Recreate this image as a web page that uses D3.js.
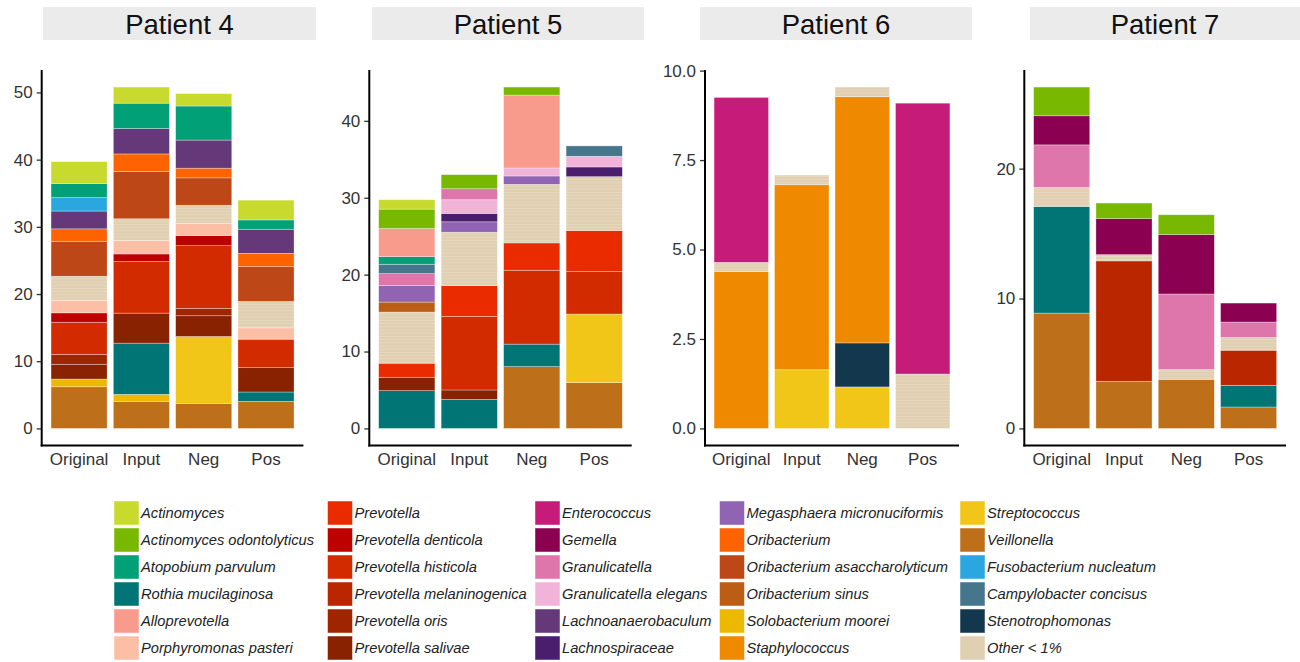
<!DOCTYPE html>
<html>
<head>
<meta charset="utf-8">
<script src="https://cdn.jsdelivr.net/npm/d3@7"></script>
<style>
  body { margin: 0; background: #fff; }
  svg { display: block; font-family: "Liberation Sans", Arial, Helvetica, sans-serif; }
</style>
</head>
<body>
<svg id="chart" width="1300" height="662"></svg>
<script>
// ---- data: relative abundance (%) per taxon, columns follow `samples` ----
const samples = ["Original", "Input", "Neg", "Pos"];
const patientNames = ["Patient 4", "Patient 5", "Patient 6", "Patient 7"];

const patient4Rows = [
  ["Actinomyces",                    3.25, 2.40, 1.84, 2.94],
  ["Atopobium parvulum",             2.10, 3.77, 5.07, 1.39],
  ["Fusobacterium nucleatum",        2.00, 0,    0,    0   ],
  ["Lachnoanaerobaculum",            2.65, 3.78, 4.18, 3.58],
  ["Oribacterium",                   1.85, 2.59, 1.44, 1.99],
  ["Oribacterium asaccharolyticum",  5.20, 7.06, 4.08, 5.17],
  ["Other < 1%",                     3.60, 3.20, 2.73, 3.93],
  ["Porphyromonas pasteri",          1.85, 2.03, 1.79, 1.69],
  ["Prevotella denticola",           1.40, 1.14, 1.49, 0   ],
  ["Prevotella histicola",           4.80, 7.67, 9.34, 4.23],
  ["Prevotella oris",                1.45, 0,    1.09, 0   ],
  ["Prevotella salivae",             2.20, 4.47, 3.09, 3.63],
  ["Rothia mucilaginosa",            0,    7.62, 0,    1.39],
  ["Solobacterium moorei",           1.15, 1.04, 0,    0   ],
  ["Streptococcus",                  0,    0,    9.95, 0   ],
  ["Veillonella",                    6.20, 4.03, 3.73, 4.03]
];

const patient5Rows = [
  ["Actinomyces",                    1.22, 0,    0,    0   ],
  ["Actinomyces odontolyticus",      2.52, 1.83, 1.04, 0   ],
  ["Alloprevotella",                 3.65, 0,    9.48, 0   ],
  ["Atopobium parvulum",             1.00, 0,    0,    0   ],
  ["Campylobacter concisus",         1.22, 0,    0,    1.35],
  ["Granulicatella",                 1.56, 1.43, 0,    0   ],
  ["Granulicatella elegans",         0,    1.78, 1.04, 1.39],
  ["Lachnospiraceae",                0,    1.09, 0,    1.26],
  ["Megasphaera micronuciformis",    2.14, 1.35, 1.09, 0   ],
  ["Oribacterium sinus",             1.30, 0,    0,    0   ],
  ["Other < 1%",                     6.65, 6.95, 7.61, 7.00],
  ["Prevotella",                     1.83, 4.00, 3.56, 5.35],
  ["Prevotella histicola",           0,    9.57, 9.61, 5.52],
  ["Prevotella salivae",             1.74, 1.22, 0,    0   ],
  ["Rothia mucilaginosa",            4.91, 3.78, 2.92, 0   ],
  ["Streptococcus",                  0,    0,    0,    8.91],
  ["Veillonella",                    0,    0,    8.04, 5.96]
];

const patient6Rows = [
  ["Enterococcus",                   4.61, 0,    0,    7.57],
  ["Other < 1%",                     0.25, 0.27, 0.27, 1.52],
  ["Staphylococcus",                 4.39, 5.17, 6.88, 0   ],
  ["Stenotrophomonas",               0,    0,    1.23, 0   ],
  ["Streptococcus",                  0,    1.64, 1.16, 0   ]
];

const patient7Rows = [
  ["Actinomyces odontolyticus",      2.21, 1.19, 1.52, 0   ],
  ["Gemella",                        2.24, 2.78, 4.58, 1.46],
  ["Granulicatella",                 3.27, 0,    5.82, 1.19],
  ["Other < 1%",                     1.47, 0.48, 0.75, 0.98],
  ["Prevotella melaninogenica",      0,    9.27, 0,    2.70],
  ["Rothia mucilaginosa",            8.21, 0,    0,    1.67],
  ["Veillonella",                    8.88, 3.63, 3.78, 1.65]
];

// y-axis tick labels per panel
const yTicks4 = [0, 10, 20, 30, 40, 50];
const yTicks5 = [0, 10, 20, 30, 40];
const yTicks6 = [0, 2.5, 5, 7.5, 10];
const yTicks7 = [0, 10, 20];

// legend entries (column-major, six per column) and their fills
const legendTaxa = [
  "Actinomyces", "Actinomyces odontolyticus", "Atopobium parvulum", "Rothia mucilaginosa", "Alloprevotella", "Porphyromonas pasteri",
  "Prevotella", "Prevotella denticola", "Prevotella histicola", "Prevotella melaninogenica", "Prevotella oris", "Prevotella salivae",
  "Enterococcus", "Gemella", "Granulicatella", "Granulicatella elegans", "Lachnoanaerobaculum", "Lachnospiraceae",
  "Megasphaera micronuciformis", "Oribacterium", "Oribacterium asaccharolyticum", "Oribacterium sinus", "Solobacterium moorei", "Staphylococcus",
  "Streptococcus", "Veillonella", "Fusobacterium nucleatum", "Campylobacter concisus", "Stenotrophomonas", "Other < 1%"
];
const legendColors = [
  "#C8DA2E", "#78B800", "#01A077", "#017575", "#F89B8D", "#FDBEA6",
  "#EA2B00", "#BD0000", "#D32B00", "#B92600", "#9E2500", "#892200",
  "#C71B7A", "#8B0050", "#DE76AC", "#F1B4D8", "#643879", "#4A1D6D",
  "#9063B3", "#FE6300", "#BE4718", "#BC5D16", "#EDB900", "#EE8900",
  "#F2C619", "#BE6F19", "#2BA7E0", "#45768B", "#13384E", "#E0CFB1"
];

// ---- drawing ----
const svg = d3.select("#chart");
const color = d3.scaleOrdinal(legendTaxa, legendColors);
const OTHER = "Other < 1%";

// faint striping inside the "Other" blocks (many small taxa stacked together)
const defs = svg.append("defs");
const pat = defs.append("pattern")
  .attr("id", "otherTexture").attr("patternUnits", "userSpaceOnUse")
  .attr("width", 6).attr("height", 3.2);
pat.append("rect").attr("width", 6).attr("height", 3.2).attr("fill", color(OTHER));
pat.append("rect").attr("y", 0).attr("width", 6).attr("height", 0.6)
  .attr("fill", "#fff").attr("opacity", 0.28);

const panels = [
  { name: patientNames[0], rows: patient4Rows, ticks: yTicks4, fmt: d3.format("d"),   x0: 41.7,  x1: 303.4, sx0: 43,   sx1: 316 },
  { name: patientNames[1], rows: patient5Rows, ticks: yTicks5, fmt: d3.format("d"),   x0: 369.3, x1: 631.7, sx0: 372,  sx1: 644 },
  { name: patientNames[2], rows: patient6Rows, ticks: yTicks6, fmt: d3.format(".1f"), x0: 705,   x1: 959,   sx0: 700,  sx1: 972 },
  { name: patientNames[3], rows: patient7Rows, ticks: yTicks7, fmt: d3.format("d"),   x0: 1024.3,x1: 1286,  sx0: 1030, sx1: 1300 }
];

const axisTop = 70, axisBottom = 445.5;

panels.forEach(p => {
  const g = svg.append("g");

  // strip with panel title
  g.append("rect")
    .attr("x", p.sx0).attr("y", 7).attr("width", p.sx1 - p.sx0).attr("height", 33)
    .attr("fill", "#EBEBEB");
  g.append("text")
    .attr("x", (p.sx0 + p.sx1) / 2).attr("y", 33.5)
    .attr("text-anchor", "middle").attr("font-size", 27.5).attr("fill", "#111")
    .text(p.name);

  // stacked layout: alphabetical order reads top to bottom
  const keys = p.rows.map(r => r[0]).sort((a, b) => (a < b ? 1 : a > b ? -1 : 0));
  const table = samples.map((s, j) => {
    const o = { sample: s };
    p.rows.forEach(r => { o[r[0]] = r[j + 1]; });
    return o;
  });
  const series = d3.stack().keys(keys)(table);
  const maxTop = d3.max(series, s => d3.max(s, d => d[1]));

  const x = d3.scaleBand().domain(samples).range([p.x0, p.x1])
    .paddingInner(0.1).paddingOuter(0.15);
  const y = d3.scaleLinear().domain([-0.05 * maxTop, 1.05 * maxTop]).range([axisBottom, axisTop]);

  // bars
  series.forEach(s => {
    g.append("g").selectAll("rect")
      .data(s.filter(d => d[1] - d[0] > 0))
      .join("rect")
      .attr("x", d => x(d.data.sample))
      .attr("width", x.bandwidth())
      .attr("y", d => y(d[1]))
      .attr("height", d => y(d[0]) - y(d[1]))
      .attr("fill", s.key === OTHER ? "url(#otherTexture)" : color(s.key))
      .attr("stroke", "#ffffff").attr("stroke-opacity", 0.45).attr("stroke-width", 0.7);
  });

  // y axis
  const ya = g.append("g").attr("transform", `translate(${p.x0},0)`)
    .call(d3.axisLeft(y).tickValues(p.ticks).tickFormat(p.fmt).tickSize(5).tickPadding(4));
  ya.select(".domain").remove();
  ya.selectAll(".tick line").attr("stroke", "#333").attr("stroke-width", 1.3);
  ya.selectAll(".tick text").attr("font-size", 17).attr("fill", "#333")
    .attr("font-family", "\"Liberation Sans\", Arial, sans-serif");

  // x axis labels
  g.append("g").selectAll("text")
    .data(samples).join("text")
    .attr("x", d => x(d) + x.bandwidth() / 2)
    .attr("y", 465)
    .attr("text-anchor", "middle").attr("font-size", 17).attr("fill", "#333")
    .text(d => d);

  // axis lines
  g.append("line").attr("x1", p.x0).attr("x2", p.x0).attr("y1", axisTop).attr("y2", axisBottom + 1)
    .attr("stroke", "#000").attr("stroke-width", 2);
  g.append("line").attr("x1", p.x0 - 1).attr("x2", p.x1).attr("y1", axisBottom).attr("y2", axisBottom)
    .attr("stroke", "#000").attr("stroke-width", 2);
});

// ---- legend ----
const legendX = [114, 327.5, 535, 719.5, 960];
const legendY0 = 501, rowStep = 27;
const lg = svg.append("g");
legendTaxa.forEach((t, i) => {
  const col = Math.floor(i / 6), row = i % 6;
  const lx = legendX[col], ly = legendY0 + row * rowStep;
  lg.append("rect")
    .attr("x", lx).attr("y", ly).attr("width", 25).attr("height", 24)
    .attr("fill", color(t))
    .attr("stroke", "#ffffff").attr("stroke-opacity", 0.6).attr("stroke-width", 0.8);
  lg.append("text")
    .attr("x", lx + 27).attr("y", ly + 17)
    .attr("font-size", 14.7).attr("font-style", "italic").attr("fill", "#222")
    .text(t);
});
</script>
</body>
</html>
